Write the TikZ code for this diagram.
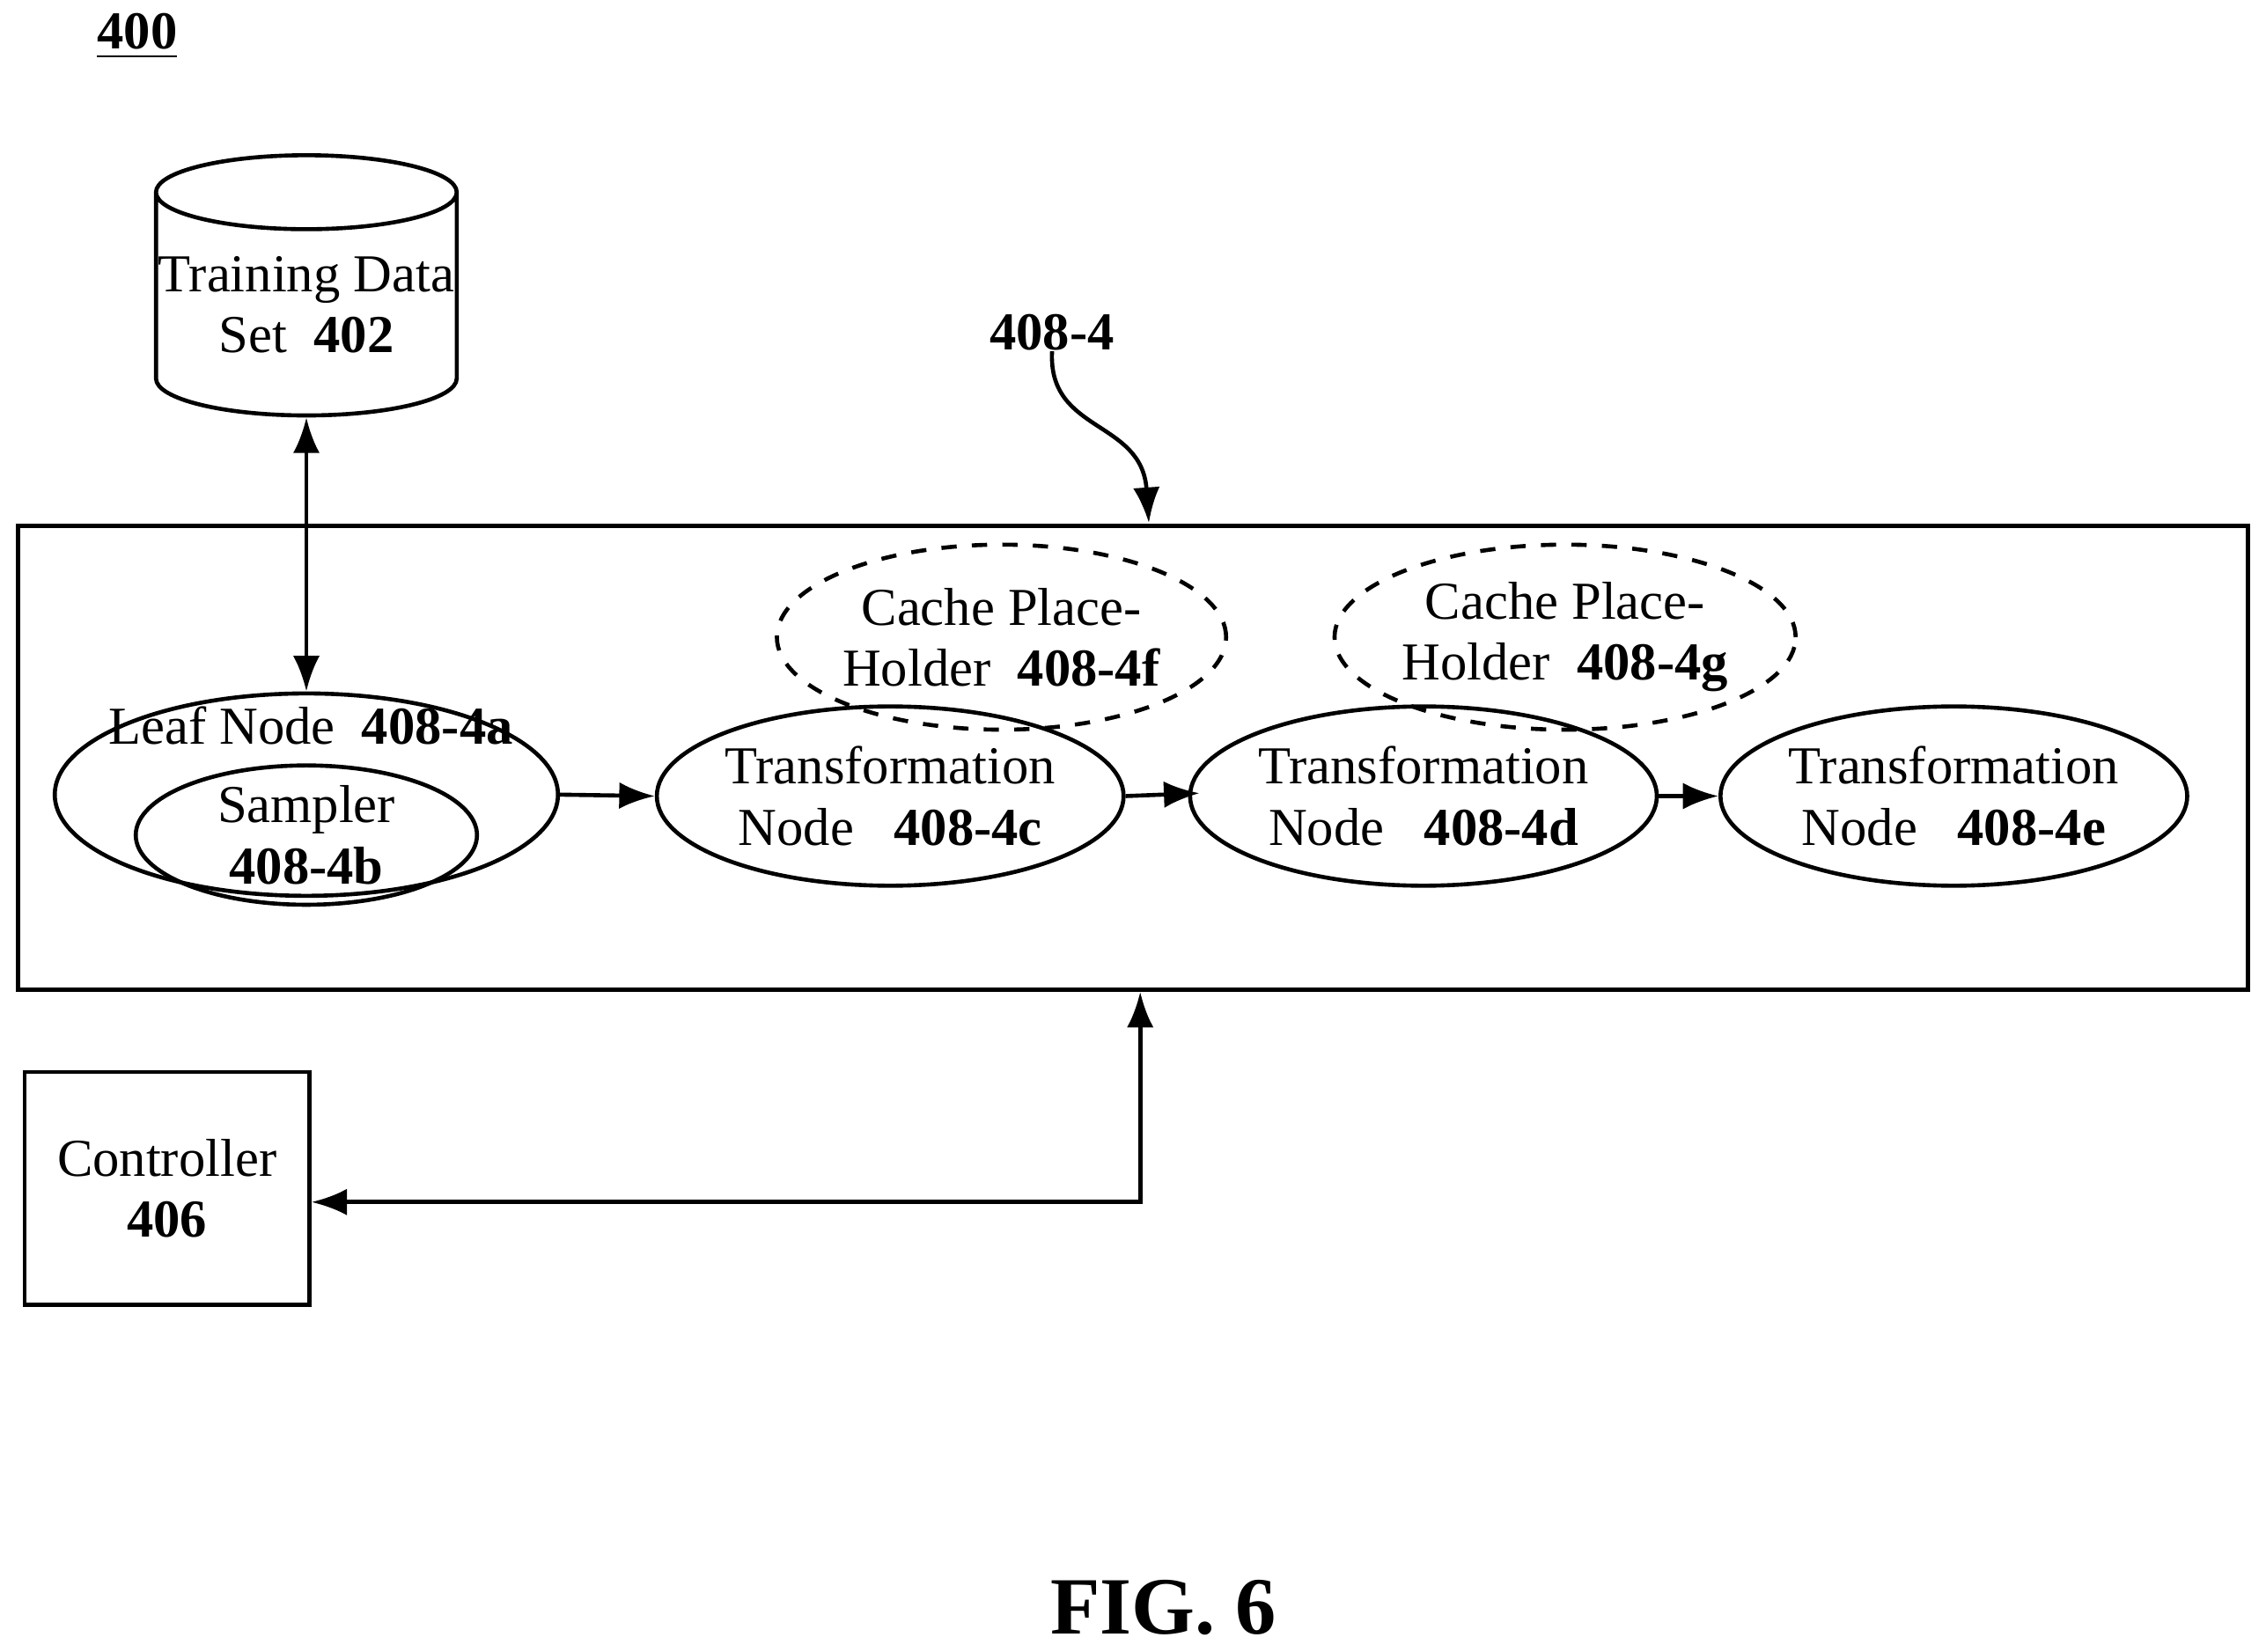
\documentclass[tikz,border=0pt]{standalone}
\usepackage{fontspec}
\setmainfont{Liberation Serif}
\usetikzlibrary{shapes.geometric,arrows.meta}
\begin{document}
\begin{tikzpicture}[x=0.01cm,y=-0.01cm,
    font=\fontsize{10.5pt}{12pt}\selectfont,
    every node/.style={align=center, inner sep=0pt},
    Oval/.style={ellipse, draw, thick},
    Cache/.style={ellipse, draw, thick, dashed},
    Link/.style={thick, -{Latex[length=7pt]}},
    Both/.style={thick, {Latex[length=7pt]}-{Latex[length=7pt]}}]
  \useasboundingbox (0,0) rectangle (1568,1143);
  \node (FigNum) at (95,25) {\textbf{\underline{400}}};
  % data store and box
  \node[cylinder, draw, thick, shape border rotate=90, aspect=0.25,
        minimum width=2.08cm, minimum height=1.8cm] (DataSet) at (212,211)
        {Training Data\\Set\ \ \textbf{402}};
  \node[draw, thick, minimum width=15.42cm, minimum height=3.21cm] (Pipe) at (784,524.5) {};
  \node (PipeLbl) at (728,230) {\textbf{408-4}};
  % nodes of the pipeline
  \node[Oval, minimum width=3.48cm, minimum height=1.4cm] (Leaf) at (212,550) {};
  \node (LeafLbl) at (215,502) {Leaf Node\ \ \textbf{408-4a}};
  \node[Oval, minimum width=2.36cm, minimum height=0.8cm] (Sampler) at (212,578)
        {Sampler\\\textbf{408-4b}};
  \node[Oval, minimum width=2.74cm, minimum height=1.24cm] (TransC) at (616,551)
        {Transformation\\Node\ \ \ \textbf{408-4c}};
  \node[Oval, minimum width=2.76cm, minimum height=1.24cm] (TransD) at (985,551)
        {Transformation\\Node\ \ \ \textbf{408-4d}};
  \node[Oval, minimum width=2.76cm, minimum height=1.24cm] (TransE) at (1352,551)
        {Transformation\\Node\ \ \ \textbf{408-4e}};
  \node[Cache, minimum width=2.76cm, minimum height=1.28cm] (CacheF) at (693,441)
        {Cache Place-\\Holder\ \ \textbf{408-4f}};
  \node[Cache, minimum width=2.76cm, minimum height=1.28cm] (CacheG) at (1083,441)
        {Cache Place-\\Holder\ \ \textbf{408-4g}};
  \node[draw, thick, minimum width=1.97cm, minimum height=1.61cm] (Ctrl) at (115.5,822.5)
        {Controller\\\textbf{406}};
  \node[font=\fontsize{16pt}{18pt}\selectfont\bfseries] (FigCap) at (805,1113) {FIG. 6};
  \coordinate (GapEnd) at (830,549);
  \coordinate (Corner) at (789,832);
  % connectors
  \draw[Both] (DataSet.south) -- (Leaf.north);
  \draw[Link] (Leaf.east) -- (TransC.west);
  \draw[Link] (TransC.east) -- (GapEnd);
  \draw[Link] (TransD.east) -- (TransE.west);
  \draw[Both] (Ctrl.east |- Corner) -- (Corner) -- (Corner |- Pipe.south);
  \draw[Link] (PipeLbl.south) .. controls (725,300) and (790,290) .. (795,362);
\end{tikzpicture}
\end{document}
